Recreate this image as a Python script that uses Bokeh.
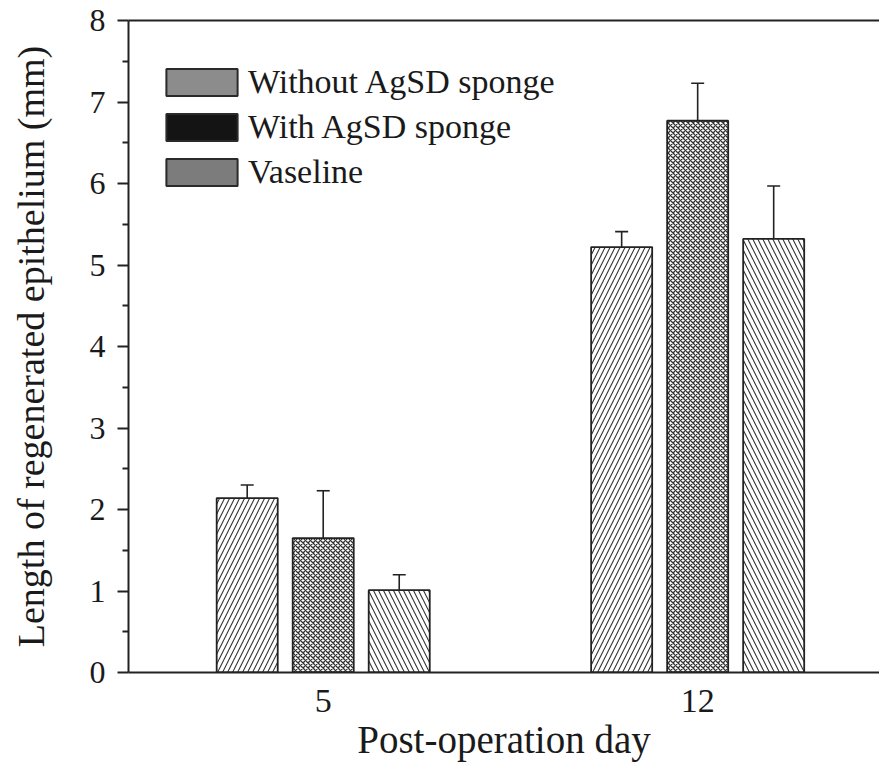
from bokeh.plotting import figure
from bokeh.models import (ColumnDataSource, Range1d, FixedTicker, LinearAxis, Legend, LegendItem,
                          Whisker, TeeHead)
from bokeh.embed import file_html
from bokeh.resources import INLINE

# ---- data ----
days = ["5", "12"]
series = ["Without AgSD sponge", "With AgSD sponge", "Vaseline"]
without_sponge = [2.14, 5.22]
with_sponge = [1.65, 6.77]
vaseline = [1.01, 5.32]
without_sponge_upper = [2.30, 5.41]
with_sponge_upper = [2.23, 7.23]
vaseline_upper = [1.20, 5.97]
y_ticks = [0, 1, 2, 3, 4, 5, 6, 7, 8]

FONT = "Liberation Serif"
NAN = float("nan")

p = figure(width=879, height=763, output_backend="svg", toolbar_location=None,
           x_range=Range1d(-0.520, 1.4856), y_range=Range1d(0, 8))
p.min_border_left = 128
p.min_border_right = 0
p.min_border_top = 20
p.min_border_bottom = 90
p.outline_line_color = None
p.grid.visible = False
p.background_fill_color = "white"
p.border_fill_color = "white"

group_x = list(range(len(days)))
bar_w = 0.163
step = 0.203

values = [without_sponge, with_sponge, vaseline]
uppers = [without_sponge_upper, with_sponge_upper, vaseline_upper]
hatches = [dict(hatch_pattern="/", hatch_scale=10, hatch_weight=1.1),
           dict(hatch_pattern="x", hatch_scale=5, hatch_weight=1.3),
           dict(hatch_pattern="\\", hatch_scale=10, hatch_weight=1.1)]

for i, (vals, ups, h) in enumerate(zip(values, uppers, hatches)):
    xs = [g + (i - 1) * step for g in group_x]
    src = ColumnDataSource(dict(x=xs, top=vals, upper=ups))
    w = Whisker(source=src, base="x", lower="top", upper="upper", dimension="height",
                line_color="#222222", line_width=1.6,
                upper_head=TeeHead(size=13, line_color="#222222", line_width=1.6),
                lower_head=None, level="underlay")
    p.add_layout(w)
    p.vbar(x="x", top="top", bottom=0, width=bar_w, source=src,
           fill_color="white", line_color="#222222", line_width=1.8,
           hatch_color="#333333", **h)

# legend (swatch-only renderers with grey/black fills as in the original; NaN => nothing drawn in plot)
legend_fills = ["#8c8c8c", "#141414", "#7c7c7c"]
items = []
for name, fc in zip(series, legend_fills):
    r = p.quad(left=[NAN], right=[NAN], top=[NAN], bottom=[NAN], fill_color=fc,
               line_color="#2a2a2a", line_width=2)
    items.append(LegendItem(label=name, renderers=[r], index=0))
legend = Legend(items=items, location=(29, 481), orientation="vertical")
legend.glyph_width = 89
legend.glyph_height = 34
legend.label_height = 34
legend.label_standoff = 2
legend.spacing = 7
legend.padding = 0
legend.margin = 0
legend.border_line_color = None
legend.background_fill_alpha = 0
legend.label_text_font = FONT
legend.label_text_font_size = "34px"
legend.label_text_color = "#1a1a1a"
p.add_layout(legend, "center")

# axes
xa = p.xaxis[0]
xa.ticker = FixedTicker(ticks=group_x)
xa.major_label_overrides = {g: d for g, d in zip(group_x, days)}
xa.major_tick_line_color = None
xa.minor_tick_line_color = None
xa.axis_line_width = 2
xa.axis_line_color = "#222222"
xa.major_label_text_font = FONT
xa.major_label_text_font_size = "34px"
xa.major_label_text_color = "#1a1a1a"
xa.major_label_text_line_height = 0.9
xa.major_label_standoff = 11
xa.axis_label = "Post-operation day"
xa.axis_label_text_font = FONT
xa.axis_label_text_font_style = "normal"
xa.axis_label_text_font_size = "39px"
xa.axis_label_text_line_height = 0.85
xa.axis_label_text_color = "#1a1a1a"
xa.axis_label_standoff = 3

ya = p.yaxis[0]
ya.ticker = FixedTicker(ticks=y_ticks, minor_ticks=[v + 0.5 for v in y_ticks[:-1]])
ya.axis_line_width = 2
ya.axis_line_color = "#222222"
ya.major_tick_line_width = 2
ya.major_tick_line_color = "#222222"
ya.major_tick_in = 0
ya.major_tick_out = 11
ya.minor_tick_line_width = 2
ya.minor_tick_line_color = "#222222"
ya.minor_tick_in = 0
ya.minor_tick_out = 6
ya.major_label_text_font = FONT
ya.major_label_text_font_size = "32px"
ya.major_label_text_color = "#1a1a1a"
ya.major_label_standoff = 12
ya.axis_label = "Length of regenerated epithelium (mm)"
ya.axis_label_text_font = FONT
ya.axis_label_text_font_style = "normal"
ya.axis_label_text_font_size = "38px"
ya.axis_label_text_color = "#1a1a1a"
ya.axis_label_standoff = 35

# top frame line (the right edge of the frame is off the picture)
top = LinearAxis(ticker=FixedTicker(ticks=[]), axis_line_width=2, axis_line_color="#222222",
                 major_label_text_font_size="0px", major_tick_line_color=None,
                 minor_tick_line_color=None)
p.add_layout(top, "above")

open("out.html", "w").write(file_html(p, INLINE))
